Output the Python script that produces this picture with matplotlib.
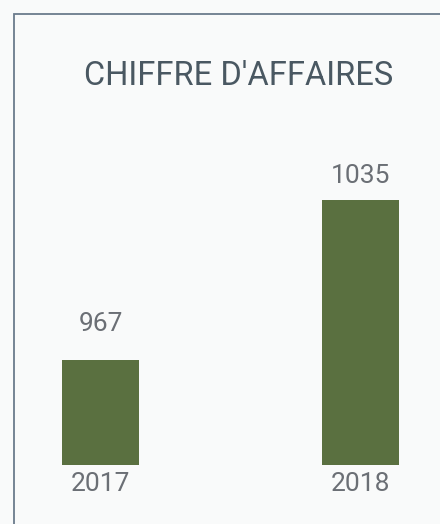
import numpy as np
import matplotlib
matplotlib.use("Agg")
import matplotlib.pyplot as plt
from matplotlib.patches import Rectangle

years = ["2017", "2018"]
revenue = [967, 1035]
label_offsets = [17, 9]  # points above each bar

bar_color = "#5a7040"
text_color = "#6b6f75"
title_color = "#4a5862"
frame_color = "#6b7b8c"

plt.rcParams["font.family"] = ["Roboto", "DejaVu Sans"]

fig = plt.figure(figsize=(4.4, 5.24), dpi=100)
fig.patch.set_facecolor("#f9fafa")

# frame on left/top of the card
fig.patches.append(Rectangle((14 / 440, -0.2), 1.2, 1.2 - 14 / 524,
                             transform=fig.transFigure, fill=False,
                             edgecolor=frame_color, linewidth=1.3))

ax = fig.add_axes([0, (524 - 465) / 524, 1, 365 / 524])
ax.set_facecolor("none")
x = np.arange(len(years))
bars = ax.bar(x, revenue, width=0.296, color=bar_color)
ax.set_xlim(-100.5 / 260, (440 - 100.5) / 260)
ax.set_ylim(922.4, 922.4 + 365 / 2.353)

for b, v, off in zip(bars, revenue, label_offsets):
    ax.annotate(str(v), xy=(b.get_x() + b.get_width() / 2, v),
                xytext=(0, off), textcoords="offset points",
                ha="center", va="bottom", fontsize=19, color=text_color)

ax.set_xticks(x)
ax.set_xticklabels(years, fontsize=19, color=text_color)
ax.tick_params(axis="x", length=0, pad=5)
ax.set_yticks([])
for s in ax.spines.values():
    s.set_visible(False)

fig.text(238.5 / 440, 1 - 76 / 524, "CHIFFRE D'AFFAIRES", ha="center", va="center",
         fontsize=23.5, color=title_color)

fig.savefig("out.png", dpi=100, facecolor=fig.get_facecolor())
